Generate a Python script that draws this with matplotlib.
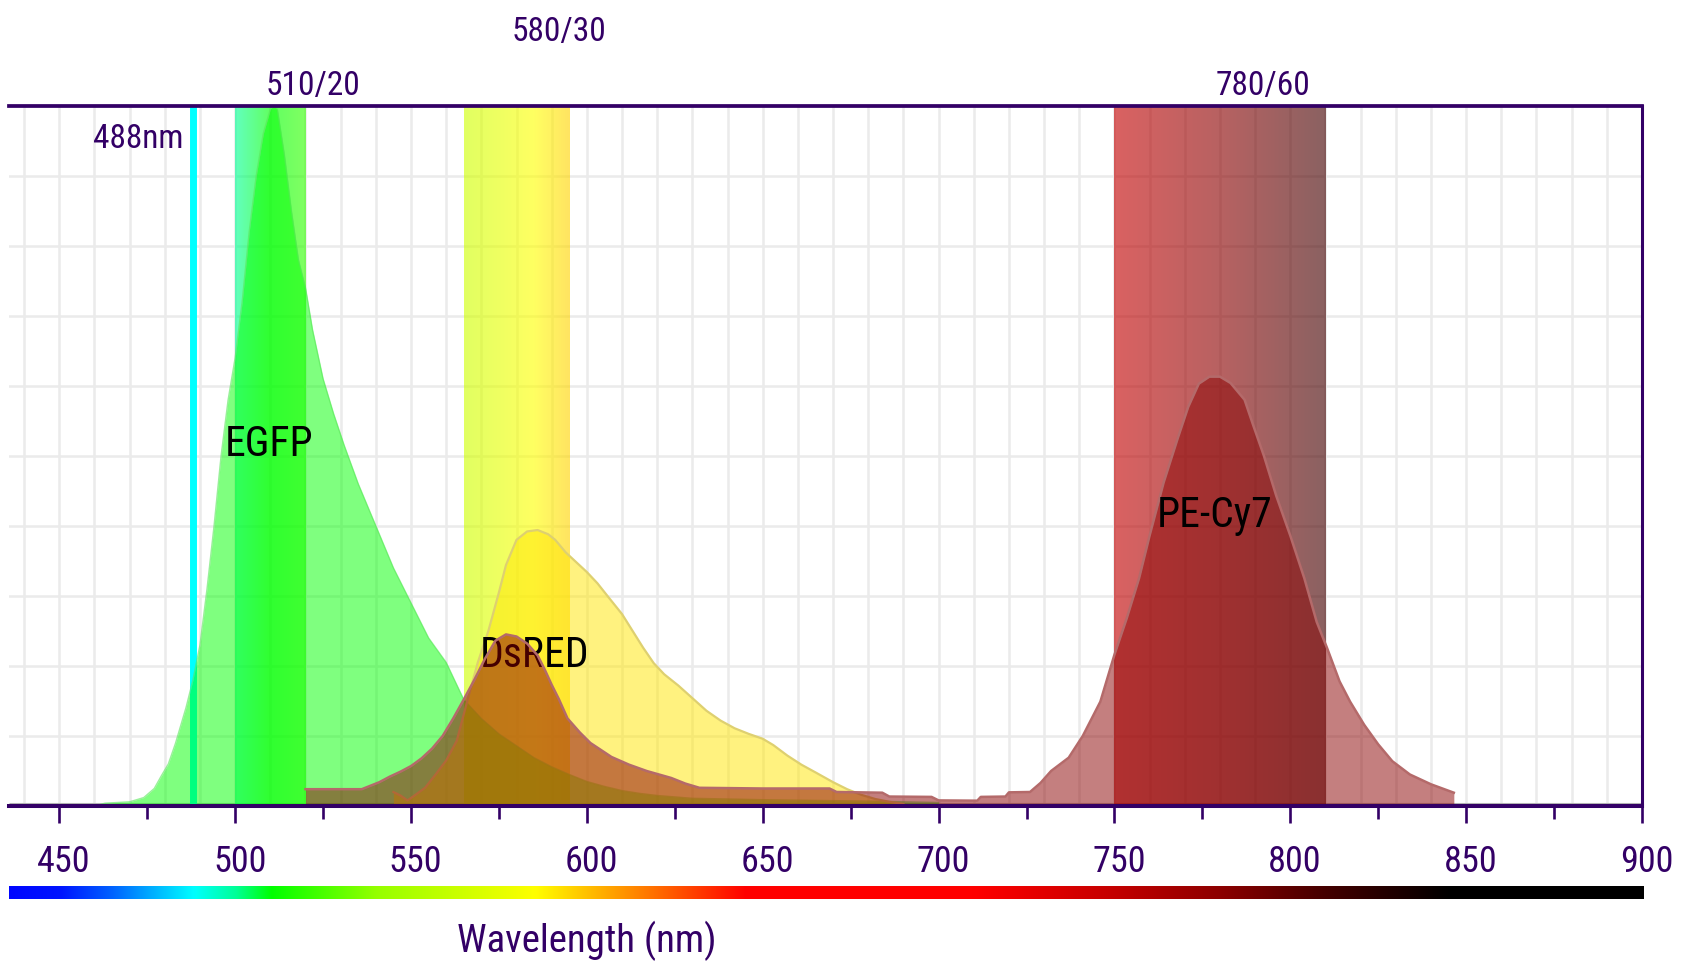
import numpy as np
import matplotlib
matplotlib.use("Agg")
import matplotlib.pyplot as plt
from matplotlib import font_manager
from matplotlib.ticker import MultipleLocator
from matplotlib.transforms import ScaledTranslation

# pick a narrow sans face when one is available
_installed = {f.name for f in font_manager.fontManager.ttflist}
_narrow = [n for n in ['Liberation Sans Narrow', 'Roboto Condensed', 'DejaVu Sans Condensed',
                       'Open Sans Condensed', 'Liberation Sans', 'DejaVu Sans'] if n in _installed]
FONT = _narrow[0] if _narrow else 'DejaVu Sans'
plt.rcParams['font.family'] = [FONT, 'DejaVu Sans']

# ---------------- data ----------------
egfp_nm = [460, 463, 470, 474, 477, 479, 481, 483, 486, 488, 490, 492, 494, 496, 498,
           500, 502, 504, 506, 508, 510, 511, 512, 514, 516, 518, 520, 522, 525, 528,
           531, 535, 540, 545, 550, 555, 560, 565, 570, 575, 580, 585, 590, 595, 600,
           605, 610, 615, 620, 630, 650, 680, 700]
egfp_em = [0, 0.4, 0.6, 1.2, 2.5, 4.3, 6.0, 8.9, 14, 18, 23, 31, 40, 50, 58,
           64, 72, 82, 90, 96, 99.5, 100, 99.5, 93, 85, 78, 74, 68, 61, 56,
           51.5, 46, 40, 34, 29, 24, 20.5, 15.2, 12.5, 10.3, 8.6, 6.9, 5.6, 4.5, 3.5,
           2.8, 2.2, 1.8, 1.5, 1.1, 0.9, 0.7, 0.5]

dsred_nm = [545, 547, 549, 551, 554, 557, 560, 563, 566, 569, 572, 575, 577, 580, 583,
            586, 589, 591, 594, 597, 600, 603, 606, 610, 613, 616, 619, 622, 626, 630,
            634, 638, 642, 646, 650, 653, 657, 661, 665, 670, 674, 678, 682, 686, 690]
dsred_em = [2.0, 1.5, 0.8, 1.5, 2.6, 4.5, 6.5, 9.3, 15, 20.5, 25, 30.5, 34.4, 38, 39.2,
            39.4, 38.8, 38, 36.2, 34.8, 33.4, 31.8, 29.9, 27.4, 25, 22.6, 20.4, 18.8, 17.2, 15.4,
            13.6, 12.2, 11.1, 10.3, 9.6, 8.7, 7.2, 5.9, 4.8, 3.4, 2.4, 1.6, 1.0, 0.6, 0.3]

pecy7_nm = [520, 536, 538, 541, 544, 547, 550, 553, 556, 559, 562, 565, 568, 571, 574,
            577, 580, 583, 586, 588, 590, 592, 594.5, 598, 601, 604, 607, 612, 617, 624,
            628, 632, 650, 669, 671, 684, 686, 698, 700, 711, 712, 719, 720, 726, 729,
            732, 737, 741, 746, 750, 753.5, 757, 760, 764, 768, 771, 774, 777, 780, 783,
            787, 789.5, 792.5, 796, 800, 804, 807.5, 810.5, 814, 817, 821, 825, 829, 834,
            840, 846.5]
pecy7_em = [2.4, 2.4, 2.8, 3.4, 4.2, 4.9, 5.7, 6.8, 8.2, 10, 12.5, 15.2, 18, 21, 23.6,
            24.5, 24.2, 23.2, 21.5, 19.5, 17.3, 15.3, 12.5, 10.5, 9.0, 8.0, 7.0, 5.9, 5.0, 4.0,
            3.2, 2.6, 2.5, 2.5, 2.0, 1.9, 1.35, 1.3, 0.8, 0.76, 1.3, 1.35, 1.95, 2.0, 3.3,
            5.0, 6.9, 10, 14.9, 21.6, 26.8, 32.5, 38.6, 46.2, 52.5, 57, 60.3, 61.3, 61.3, 60.4,
            58, 54.3, 50, 44.3, 38.6, 32.5, 26.3, 22.5, 17.8, 14.9, 11.6, 8.8, 6.4, 4.5,
            3.1, 1.9]

laser_nm = 488
laser_label = "488nm"

filter_centers = [510, 580, 780]
filter_widths = [20, 30, 60]
filter_labels = ["510/20", "580/30", "780/60"]

tick_values = list(range(450, 901, 50))
x_label = "Wavelength (nm)"

# ---------------- styling ----------------
PURPLE = "#330066"
GRID = "#ebebeb"
XMIN, XMAX = 435.7, 900
NARROW = FONT == 'Liberation Sans Narrow' or 'Condensed' in FONT
FS_TICK = 26 if NARROW else 23
FS_NOTE = 24 if NARROW else 21.5
FS_DYE = 30 if NARROW else 26
FS_XLAB = 28 if NARROW else 25

# visible-spectrum colour ramp used for the colour bar and filter bands
spec_nm = [430, 450, 465, 488, 500, 510, 540, 575, 585, 605, 625, 645, 710, 750, 780,
           810, 835, 845, 905]
spec_rgb = np.array([(0, 0, 255), (0, 20, 255), (0, 100, 255), (0, 255, 255), (0, 255, 150),
                     (0, 255, 0), (150, 255, 0), (230, 255, 0), (255, 255, 0), (255, 170, 0),
                     (255, 85, 0), (255, 0, 0), (255, 0, 0), (195, 0, 0), (140, 0, 0),
                     (68, 0, 0), (20, 0, 0), (0, 0, 0), (0, 0, 0)]) / 255.0


def spectrum(wl):
    wl = np.atleast_1d(wl)
    return np.stack([np.interp(wl, spec_nm, spec_rgb[:, i]) for i in range(3)], axis=-1)


fig = plt.figure(figsize=(16.9, 9.63), dpi=100)
W, H = 1690, 963
ax = fig.add_axes([9 / W, 1 - 806 / H, (1642 - 9) / W, (806 - 105.6) / H])

# light grid
for gx in np.arange(440, 901, 10):
    ax.axvline(gx, color=GRID, lw=1.8, zorder=0)
for gy in np.arange(10, 100, 10):
    ax.axhline(gy, color=GRID, lw=1.8, zorder=0)

# grey zero line
ax.plot([XMIN, XMAX], [0.3, 0.3], color="#b4b4b4", lw=2.2, zorder=0.5, solid_capstyle='butt')

# laser line
ax.axvline(laser_nm, color="#00ffff", lw=5, zorder=1)
ax.text(laser_nm - 2.8, 94.0, laser_label, color=PURPLE, fontsize=FS_NOTE,
        ha='right', va='baseline', zorder=5)

# filter bands
for c, w, lab, ly in zip(filter_centers, filter_widths, filter_labels, [101.5, 109.2, 101.5]):
    lo, hi = c - w / 2, c + w / 2
    grad = spectrum(np.linspace(lo, hi, 60))[np.newaxis, :, :]
    ax.imshow(grad, extent=[lo, hi, 0, 100], aspect='auto', alpha=0.62,
              interpolation='bilinear', zorder=1.2)
    ax.text(c - 1.3, ly, lab, color=PURPLE, fontsize=FS_NOTE, ha='left', va='baseline',
            clip_on=False)

# EGFP
ax.fill_between(egfp_nm, egfp_em, 0, color=(0, 1, 0), alpha=0.5, lw=0, zorder=2)
ax.plot(egfp_nm, egfp_em, color=(0.35, 0.9, 0.35), lw=1.0, alpha=0.6, zorder=2.1)
ax.text(497.0, 50.0, "EGFP", color="black", fontsize=FS_DYE, ha='left', va='baseline', zorder=2.2)

# DsRED
ax.fill_between(dsred_nm, dsred_em, 0, color=(1, 0.9, 0), alpha=0.5, lw=0, zorder=3)
ax.plot(dsred_nm, dsred_em, color="#ded070", lw=1.6, zorder=3.1)
ax.text(569.6, 19.8, "DsRED", color="black", fontsize=FS_DYE, ha='left', va='baseline', zorder=3.2)

# PE-Cy7
ax.fill_between(pecy7_nm, pecy7_em, 0, color=(0.54, 0, 0), alpha=0.5, lw=0, zorder=4)
ax.plot(pecy7_nm, pecy7_em, color="#b46a6a", lw=1.8, zorder=4.1)
ax.text(762.0, 39.8, "PE-Cy7", color="black", fontsize=FS_DYE, ha='left', va='baseline', zorder=4.2)

ax.set_xlim(XMIN, XMAX)
ax.set_ylim(0, 100)

# axes frame
ax.spines['left'].set_visible(False)
for s in ['top', 'bottom', 'right']:
    ax.spines[s].set_color(PURPLE)
ax.spines['top'].set_linewidth(2.7)
ax.spines['bottom'].set_linewidth(2.9)
ax.spines['right'].set_linewidth(2.2)
for s in ax.spines.values():
    s.set_zorder(6)

ax.set_yticks([])
ax.set_xticks(tick_values)
ax.set_xticklabels([str(t) for t in tick_values])
ax.xaxis.set_minor_locator(MultipleLocator(25))
ax.tick_params(axis='x', which='major', direction='out', length=12, width=1.9,
               colors=PURPLE, labelsize=FS_TICK, pad=15)
ax.tick_params(axis='x', which='minor', direction='out', length=9, width=1.9,
               colors=PURPLE)
# tick labels sit a few pixels right of their ticks
_shift = ScaledTranslation(4.5 / 100, 0, fig.dpi_scale_trans)
for lbl in ax.get_xticklabels():
    lbl.set_transform(lbl.get_transform() + _shift)

# spectrum colour bar
cax = fig.add_axes([9 / W, 1 - 899 / H, (1644 - 9) / W, 13 / H])
bar = spectrum(np.linspace(XMIN, XMAX, 600))[np.newaxis, :, :]
cax.imshow(bar, extent=[XMIN, XMAX, 0, 1], aspect='auto', interpolation='bilinear')
cax.set_axis_off()

fig.text(587 / W, 1 - 952 / H, x_label, color=PURPLE, fontsize=FS_XLAB,
         ha='center', va='baseline')

fig.savefig("out.png", dpi=100)
